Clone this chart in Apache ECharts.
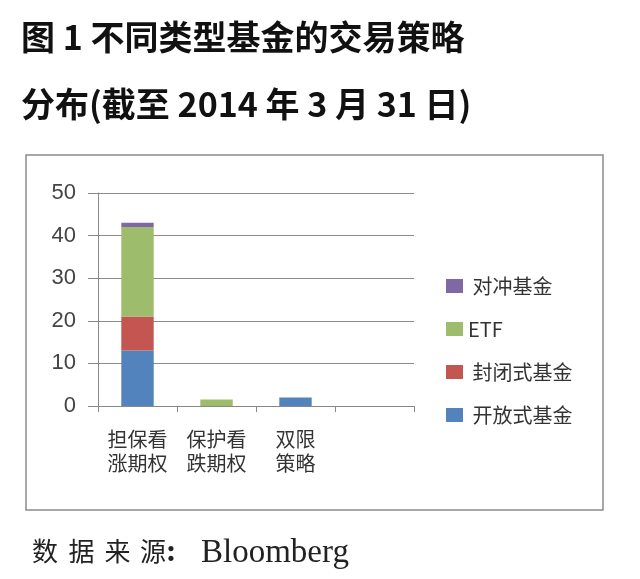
<!DOCTYPE html>
<html>
<head>
<meta charset="utf-8">
<script src="https://cdn.jsdelivr.net/npm/echarts@6/dist/echarts.min.js"></script>
<style>
html,body{margin:0;padding:0;background:#fff;}
#chart{width:640px;height:579px;}
</style>
</head>
<body>
<div id="chart"></div>
<script>
// ---- data ----
const categories = ['担保看\n涨期权', '保护看\n跌期权', '双限\n策略', ''];
const seriesNames = ['开放式基金', '封闭式基金', 'ETF', '对冲基金'];
const openEndFunds = [13, 0, 2, 0];
const closedEndFunds = [8, 0, 0, 0];
const etfFunds = [21, 1.5, 0, 0];
const hedgeFunds = [1, 0, 0, 0];
const legendOrder = ['对冲基金', 'ETF', '封闭式基金', '开放式基金'];
const titleLine1 = '图 1 不同类型基金的交易策略';
const titleLine2 = '分布(截至 2014 年 3 月 31 日)';
const sourceChars = ['数', '据', '来', '源'];
const sourceColon = ':';
const sourceName = 'Bloomberg';

const colors = {
  '开放式基金': '#5283bc',
  '封闭式基金': '#c35651',
  'ETF': '#9dbc6c',
  '对冲基金': '#8068a4'
};
const valuesByName = {
  '开放式基金': openEndFunds,
  '封闭式基金': closedEndFunds,
  'ETF': etfFunds,
  '对冲基金': hedgeFunds
};

const chart = echarts.init(document.getElementById('chart'), null, {renderer: 'canvas'});

const graphics = [
  {type: 'rect', shape: {x: 26, y: 155, width: 577, height: 355},
   style: {fill: 'none', stroke: '#8a8a8a', lineWidth: 1.5}, z: 0},
  {type: 'text', x: 21, y: 37,
   style: {text: titleLine1, font: 'bold 34px "Noto Sans CJK SC"', fill: '#111', verticalAlign: 'middle'}},
  {type: 'text', x: 21, y: 104.5,
   style: {text: titleLine2, font: 'bold 34px "Noto Sans CJK SC"', fill: '#111', verticalAlign: 'middle'}}
];
const sourceCenters = [45, 81.5, 117.5, 153];
sourceChars.forEach((c, i) => {
  graphics.push({type: 'text', x: sourceCenters[i], y: 551.5,
    style: {text: c, font: '26px "Noto Sans CJK SC"', fill: '#222', align: 'center', verticalAlign: 'middle'}});
});
graphics.push({type: 'text', x: 171, y: 553,
  style: {text: sourceColon, font: 'bold 32px "Liberation Serif"', fill: '#222', align: 'center', verticalAlign: 'middle'}});
graphics.push({type: 'text', x: 201, y: 553,
  style: {text: sourceName, font: '33px "Liberation Serif"', fill: '#222', verticalAlign: 'middle'}});

const option = {
  backgroundColor: '#fff',
  animation: false,
  graphic: graphics,
  grid: {left: 98, top: 193, width: 316, height: 213, containLabel: false},
  legend: {
    data: legendOrder,
    orient: 'vertical',
    left: 441,
    top: 270,
    itemWidth: 17,
    itemHeight: 14,
    itemGap: 21,
    icon: 'rect',
    formatter: n => n === 'ETF' ? n : ' ' + n,
    textStyle: {fontSize: 20, lineHeight: 22, color: '#333', fontFamily: '"Noto Sans CJK SC"'}
  },
  xAxis: {
    type: 'category',
    data: categories,
    axisLine: {lineStyle: {color: '#888', width: 1}},
    axisTick: {show: true, length: 6, lineStyle: {color: '#888'}},
    axisLabel: {fontSize: 20, lineHeight: 24, margin: 21, color: '#333', fontFamily: '"Noto Sans CJK SC"', interval: 0},
    splitLine: {show: false}
  },
  yAxis: {
    type: 'value',
    min: 0, max: 50, interval: 10,
    axisLine: {show: true, lineStyle: {color: '#888', width: 1}},
    axisTick: {show: true, length: 10, lineStyle: {color: '#888'}},
    axisLabel: {fontSize: 22, margin: 22, color: '#444', fontFamily: '"Liberation Sans"'},
    splitLine: {show: true, lineStyle: {color: '#8c8c8c', width: 1.2}}
  },
  series: seriesNames.map(name => ({
    name: name,
    type: 'bar',
    stack: 'total',
    barWidth: '41%',
    data: valuesByName[name],
    itemStyle: {color: colors[name]}
  }))
};
chart.setOption(option);
</script>
</body>
</html>
